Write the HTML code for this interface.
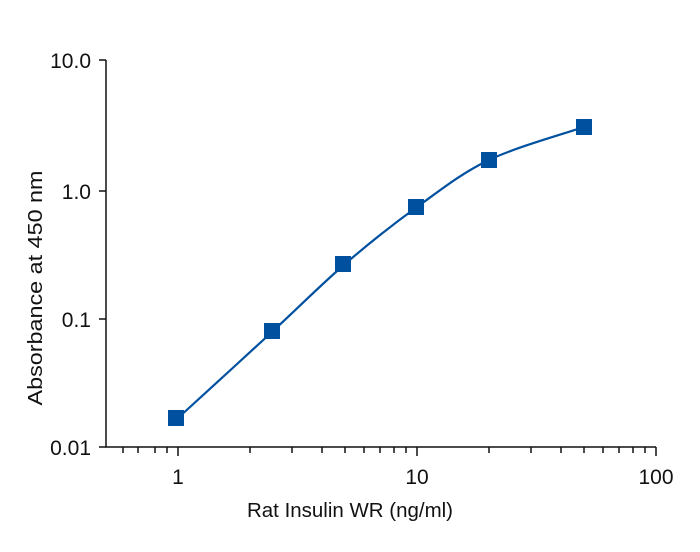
<!DOCTYPE html>
<html><head><meta charset="utf-8"><style>body{margin:0;background:#fff}svg{display:block}text{font-family:"Liberation Sans",sans-serif;fill:#111}</style></head>
<body>
<svg width="700" height="552" viewBox="0 0 700 552">
<g stroke="#111" stroke-width="1.5" fill="none">
<path d="M106 60 V447 H656"/>
<path d="M99 60H106M99 191H106M99 319H106M99 447H106"/>
<path d="M178 447v9M417 447v9M656 447v9"/>
<path d="M123 447v6M138 447v6M155 447v6M167 447v6M250 447v6M292 447v6M322 447v6M345 447v6M364 447v6M380 447v6M394 447v6M406 447v6M489 447v6M531 447v6M561 447v6M584 447v6M603 447v6M619 447v6M633 447v6M645 447v6"/>
</g>
<g font-size="21" text-anchor="end">
<text x="91" y="68">10.0</text><text x="91" y="199">1.0</text><text x="91" y="327">0.1</text><text x="91" y="455">0.01</text>
</g>
<g font-size="21" text-anchor="middle">
<text x="178" y="484">1</text><text x="417" y="484">10</text><text x="656" y="484">100</text>
<text x="350" y="517" font-size="20" textLength="206" lengthAdjust="spacingAndGlyphs">Rat Insulin WR (ng/ml)</text>
<text transform="translate(42,288) rotate(-90)" font-size="20" textLength="235" lengthAdjust="spacingAndGlyphs">Absorbance at 450 nm</text>
</g>
<path d="M178 418C193.8 403.5 245.2 356.7 273 331C300.8 305.3 321 284.7 345 264C369 243.3 393 224.3 417 207C441 189.7 461.2 173.3 489 160C516.8 146.7 568.2 132.5 584 127" stroke="#0050a0" stroke-width="2.2" fill="none"/>
<g fill="#0050a0">
<rect x="168" y="410" width="16" height="16"/>
<rect x="264" y="323" width="16" height="16"/>
<rect x="335" y="256" width="16" height="16"/>
<rect x="408" y="199" width="16" height="16"/>
<rect x="481" y="152" width="16" height="16"/>
<rect x="576" y="119" width="16" height="16"/>
</g>
</svg>
</body></html>
